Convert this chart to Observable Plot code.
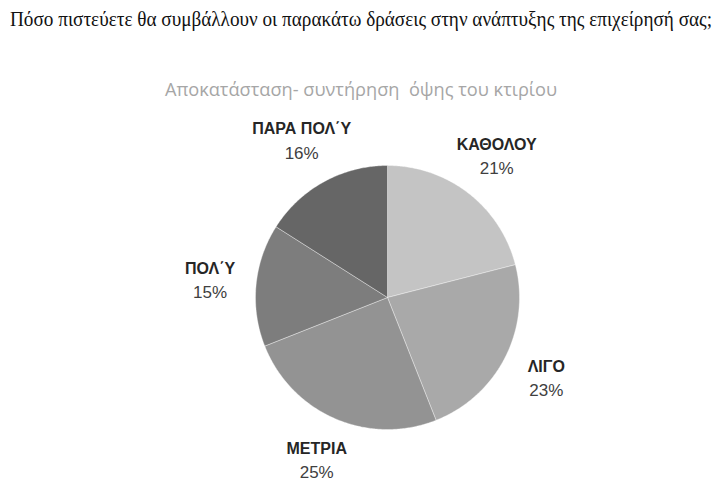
<!DOCTYPE html>
<html><head><meta charset="utf-8">
<script src="https://cdn.jsdelivr.net/npm/d3@7"></script>
<script src="https://cdn.jsdelivr.net/npm/@observablehq/plot@0.6"></script>
<style>
body{margin:0;background:#fff;width:722px;height:490px;overflow:hidden}
#title{position:relative;height:60px;font-family:"Liberation Serif",serif;font-size:20px;color:#111;white-space:nowrap}
#title span{position:absolute;left:10px;top:8px;transform-origin:0 0;display:inline-block}
#sub{height:50px;font-family:"Open Sans",sans-serif;font-size:18.2px;color:#a6a6a6;text-align:center;line-height:58px;margin-top:0}
</style></head><body>
<div id="title"><span id="t">Πόσο πιστεύετε θα συμβάλλουν οι παρακάτω δράσεις στην ανάπτυξης της επιχείρησή σας;</span></div>
<div id="sub">Αποκατάσταση- συντήρηση&nbsp; όψης του κτιρίου</div>
<div id="chart"></div>
<script>
const categories = ["ΚΑΘΟΛΟΥ", "ΛΙΓΟ", "ΜΕΤΡΙΑ", "ΠΟΛ΄Υ", "ΠΑΡΑ ΠΟΛ΄Υ"];
const values = [21, 23, 25, 15, 16];
const labels = ["21%", "23%", "25%", "15%", "16%"];
const colors = ["#c4c4c4", "#a9a9a9", "#939393", "#7d7d7d", "#666666"];

// fit title width
const t = document.getElementById("t");
const w = t.getBoundingClientRect().width;
t.style.transform = `scaleX(${702 / w})`;

const arcs = d3.pie().sort(null).value(d => d.v)(categories.map((c, i) => ({c, v: values[i], l: labels[i]})));
const pts = [];
for (const a of arcs) {
  pts.push({c: a.data.c, x: 0, y: 0});
  const n = Math.max(2, Math.ceil((a.endAngle - a.startAngle) / 0.01));
  for (let k = 0; k <= n; k++) {
    const ang = a.startAngle + (a.endAngle - a.startAngle) * k / n;
    pts.push({c: a.data.c, x: Math.sin(ang), y: Math.cos(ang)});
  }
  pts.push({c: a.data.c, x: 0, y: 0});
}
const lab = arcs.map(a => {
  const m = (a.startAngle + a.endAngle) / 2;
  return {c: a.data.c, l: a.data.l, x: 1.35 * Math.sin(m), y: 1.35 * Math.cos(m)};
});

const cx = 387, cy = 187, r = 132;
const chart = Plot.plot({
  width: 722, height: 380,
  margin: 0,
  x: {domain: [-1, 1], range: [cx - r, cx + r], axis: null},
  y: {domain: [-1, 1], range: [cy + r, cy - r], axis: null},
  color: {domain: categories, range: colors},
  marks: [
    Plot.line(pts, {x: "x", y: "y", z: "c", fill: "c", stroke: "#ffffff", strokeWidth: 0.6, strokeOpacity: 0.6, curve: "linear"}),
    Plot.text(lab, {x: "x", y: "y", text: "c", dy: -12, fontWeight: "bold", fontSize: 16, fill: "#262626", fontFamily: "Liberation Sans, Arial, sans-serif"}),
    Plot.text(lab, {x: "x", y: "y", text: "l", dy: 12, fontSize: 17, fill: "#404040", fontFamily: "Liberation Sans, Arial, sans-serif"})
  ]
});
document.getElementById("chart").appendChild(chart);
</script>
</body></html>
